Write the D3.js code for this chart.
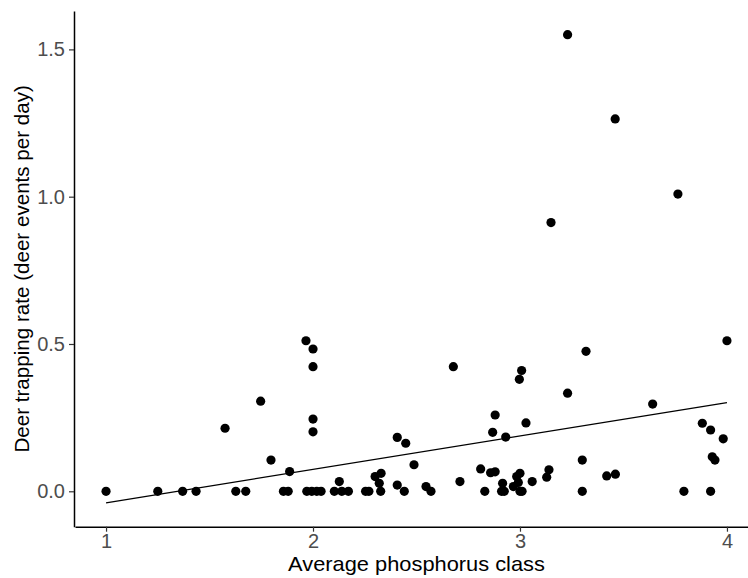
<!DOCTYPE html>
<html>
<head>
<meta charset="utf-8">
<script src="https://cdn.jsdelivr.net/npm/d3@7/dist/d3.min.js"></script>
<style>
  body { margin: 0; background: #fff; }
  svg { display: block; font-family: "Liberation Sans", Arial, sans-serif; }
  .axis .domain { stroke: #000; stroke-width: 1.5px; }
  .axis .tick line { stroke: #333; stroke-width: 1.2px; }
  .axis .tick text { fill: #4d4d4d; font-size: 20px; }
  .title { fill: #000; font-size: 20.6px; }
</style>
</head>
<body>
<svg id="chart" width="748" height="578"></svg>
<script>
// average phosphorus class per site
var phosphorus = [
    1.0, 1.25, 1.37, 1.435, 1.575, 1.627, 1.675, 1.747, 1.797, 1.857,
    1.88, 1.887, 1.966, 2.0, 2.0, 2.0, 2.0, 1.97, 1.994, 2.018,
    2.039, 2.103, 2.127, 2.139, 2.171, 2.254, 2.27, 2.3, 2.32, 2.329,
    2.327, 2.407, 2.448, 2.407, 2.441, 2.488, 2.546, 2.57, 2.678, 2.71,
    2.81, 2.83, 2.858, 2.88, 2.88, 2.868, 2.931, 2.916, 2.911, 2.924,
    2.968, 2.984, 3.0, 2.992, 3.0, 3.01, 3.008, 2.997, 3.029, 3.059,
    3.129, 3.14, 3.15, 3.23, 3.23, 3.301, 3.301, 3.319, 3.419, 3.461,
    3.46, 3.641, 3.763, 3.792, 3.881, 3.921, 3.921, 3.929, 3.942, 3.982,
    4.0
];

// deer events per day, same order
var trappingRate = [
    0, 0, 0, 0, 0.214, 0, 0, 0.306, 0.106, 0,
    0, 0.067, 0.511, 0.483, 0.423, 0.245, 0.202, 0, 0, 0,
    0, 0, 0.033, 0, 0, 0, 0, 0.05, 0.027, 0.061,
    0, 0.183, 0.163, 0.021, 0, 0.09, 0.016, 0, 0.423, 0.033,
    0.076, 0, 0.063, 0.066, 0.259, 0.2, 0.184, 0.027, 0, 0,
    0.016, 0.05, 0.061, 0.03, 0, 0, 0.41, 0.38, 0.232, 0.033,
    0.048, 0.073, 0.912, 1.55, 0.333, 0.106, 0, 0.475, 0.052, 0.058,
    1.264, 0.296, 1.009, 0, 0.231, 0.208, 0, 0.117, 0.106, 0.178,
    0.511
];

// fitted linear trend, read at both ends
var fitX = [1, 4];
var fitY = [-0.039, 0.301];

var xTicks = [1, 2, 3, 4];
var yTicks = [0, 0.5, 1.0, 1.5];

var svg = d3.select('#chart');

var panel = { left: 75, right: 758, top: 11, bottom: 526.7 };

var x = d3.scaleLinear()
    .domain([0.85, 4.15])
    .range([panel.left, panel.right])
;

var y = d3.scaleLinear()
    .domain([-0.1202, 1.6303])
    .range([panel.bottom, panel.top])
;

// Points
var points = phosphorus.map((p, i) => ({ x: p, y: trappingRate[i] }));

svg.append('g')
    .attr('class', 'points')
    .selectAll('circle')
    .data(points)
    .enter().append('circle')
    .attr('cx', d => x(d.x))
    .attr('cy', d => y(d.y))
    .attr('r', 4.6)
    .attr('fill', '#000')
;

// Trend line
var line = d3.line()
    .x(d => x(d[0]))
    .y(d => y(d[1]))
;

svg.append('path')
    .datum(fitX.map((v, i) => [v, fitY[i]]))
    .attr('d', line)
    .attr('fill', 'none')
    .attr('stroke', '#000')
    .attr('stroke-width', 1.3)
;

// Axes
svg.append('g')
    .attr('class', 'axis axis--x')
    .attr('transform', `translate(0, ${ panel.bottom })`)
    .call(d3.axisBottom(x)
        .tickValues(xTicks)
        .tickFormat(d3.format('d'))
        .tickSizeInner(5)
        .tickSizeOuter(0)
        .tickPadding(2.5))
;

svg.append('g')
    .attr('class', 'axis axis--y')
    .attr('transform', `translate(${ panel.left - 1 }, 0)`)
    .call(d3.axisLeft(y)
        .tickValues(yTicks)
        .tickFormat(d3.format('.1f'))
        .tickSizeInner(5)
        .tickSizeOuter(0)
        .tickPadding(4))
;

// Titles
svg.append('text')
    .attr('class', 'title')
    .attr('transform', `translate(${ (panel.left + panel.right) / 2 }, 570.5) scale(1.06, 1)`)
    .attr('text-anchor', 'middle')
    .text('Average phosphorus class')
;

svg.append('text')
    .attr('class', 'title')
    .attr('transform', `translate(28.5, ${ (panel.top + panel.bottom) / 2 }) rotate(-90)`)
    .attr('text-anchor', 'middle')
    .text('Deer trapping rate (deer events per day)')
;
</script>
</body>
</html>
